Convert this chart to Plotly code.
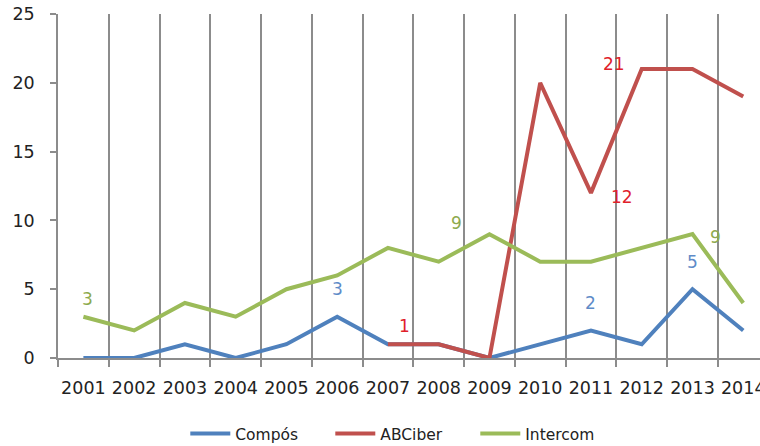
import plotly.graph_objects as go

years = list(range(2001, 2015))
compos = [0, 0, 1, 0, 1, 3, 1, 1, 0, 1, 2, 1, 5, 2]
abciber = [None, None, None, None, None, None, 1, 1, 0, 20, 12, 21, 21, 19]
intercom = [3, 2, 4, 3, 5, 6, 8, 7, 9, 7, 7, 8, 9, 4]

series_names = ["Compós", "ABCiber", "Intercom"]
line_colors = ["#4F81BD", "#C0504D", "#9BBB59"]

# data labels: (text, x, y, color)
label_text = ["3", "3", "1", "9", "21", "12", "2", "5", "9"]
label_x = [2001.08, 2006.0, 2007.32, 2008.35, 2011.45, 2011.61, 2011.0, 2013.0, 2013.46]
label_y = [4.3, 5.0, 2.3, 9.8, 21.4, 11.7, 4.0, 7.0, 8.8]
label_color = ["#8DAA4E", "#5E8BC8", "#E0202A", "#8DAA4E", "#E0202A", "#E0202A", "#5E8BC8", "#5E8BC8", "#8DAA4E"]

fig = go.Figure()
for name, vals, col in zip(series_names, [compos, abciber, intercom], line_colors):
    fig.add_trace(go.Scatter(x=years, y=vals, mode="lines", name=name,
                             line=dict(color=col, width=4), connectgaps=False))

for t, x, y, c in zip(label_text, label_x, label_y, label_color):
    fig.add_annotation(x=x, y=y, text=t, showarrow=False,
                       font=dict(family="DejaVu Sans", size=17, color=c))

grid_col = "#8C8C8C"
fig.update_layout(
    width=760, height=446,
    margin=dict(l=58, r=0, t=14, b=88, autoexpand=False),
    plot_bgcolor="white", paper_bgcolor="white",
    font=dict(family="DejaVu Sans", color="#222222"),
    showlegend=True,
    legend=dict(orientation="h", xref="container", yref="container",
                x=0.53, xanchor="center", y=0.027, yanchor="middle",
                font=dict(size=15.5, color="#222222"), itemwidth=40,
                entrywidth=90, entrywidthmode="pixels",
                tracegroupgap=0),
    xaxis=dict(
        range=[2000.5, 2014.33], automargin=False,
        tickmode="array", tickvals=years, ticktext=[str(y) for y in years],
        ticks="", showgrid=False, zeroline=False,
        showline=True, linecolor=grid_col, linewidth=1.5,
        tickfont=dict(size=17.5, color="#222222"),
        ticklabelstandoff=13, ticklabeloverflow="allow",
        minor=dict(tickmode="linear", tick0=2000.5, dtick=1, showgrid=True,
                   gridcolor=grid_col, gridwidth=1.5, ticks="outside",
                   ticklen=7, tickcolor=grid_col, tickwidth=1.5),
    ),
    yaxis=dict(
        range=[0, 25], tickmode="array", tickvals=[0, 5, 10, 15, 20, 25],
        showgrid=False, zeroline=False, automargin=False,
        showline=True, linecolor=grid_col, linewidth=1.5,
        ticks="outside", ticklen=6, tickcolor=grid_col, tickwidth=1.5,
        tickfont=dict(size=17.5, color="#222222"),
        ticklabelstandoff=12,
    ),
)

fig.write_html("out.html")
